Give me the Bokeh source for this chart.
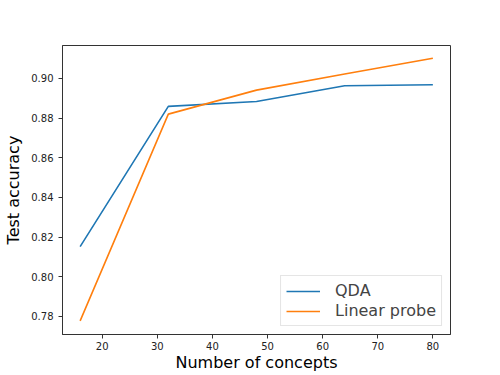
from bokeh.plotting import figure
from bokeh.models import FixedTicker, Range1d, Legend, LegendItem, CustomJSTickFormatter
from bokeh.embed import file_html
from bokeh.resources import INLINE

concepts = [16, 32, 48, 64, 80]
qda = [0.8152, 0.8859, 0.8884, 0.8963, 0.8968]
linear_probe = [0.7778, 0.8820, 0.8941, 0.9022, 0.9102]
x_ticks = [20, 30, 40, 50, 60, 70, 80]
y_ticks = [0.78, 0.80, 0.82, 0.84, 0.86, 0.88, 0.90]

p = figure(frame_width=388, frame_height=289, output_backend="svg", toolbar_location=None,
           x_range=Range1d(12.8, 83.2), y_range=Range1d(0.7709, 0.9166),
           min_border_left=62, min_border_right=34, min_border_top=45, min_border_bottom=25)
p.background_fill_color = "white"
p.border_fill_color = "white"
p.outline_line_color = "#333333"
p.outline_line_width = 1
p.xgrid.visible = False
p.ygrid.visible = False

font = "DejaVu Sans"
for ax in (p.xaxis[0], p.yaxis[0]):
    ax.axis_line_color = "#333333"
    ax.major_tick_line_color = "#333333"
    ax.major_tick_out = 4
    ax.major_tick_in = 0
    ax.minor_tick_line_color = None
    ax.major_label_text_font = font
    ax.major_label_text_font_size = "10px"
    ax.major_label_text_color = "#222222"
    ax.axis_label_text_font = font
    ax.axis_label_text_font_size = "16px"
    ax.axis_label_text_font_style = "normal"
    ax.axis_label_text_color = "black"

p.xaxis.ticker = FixedTicker(ticks=x_ticks)
p.yaxis.ticker = FixedTicker(ticks=y_ticks)
p.yaxis.formatter = CustomJSTickFormatter(code="return tick.toFixed(2);")
p.xaxis.axis_label = "Number of concepts"
p.yaxis.axis_label = "Test accuracy"
p.xaxis.major_label_standoff = 3
p.xaxis.axis_label_standoff = 0
p.yaxis.axis_label_standoff = 5

r1 = p.line(concepts, qda, line_color="#1f77b4", line_width=1.6)
r2 = p.line(concepts, linear_probe, line_color="#ff7f0e", line_width=1.6)

legend = Legend(items=[LegendItem(label="QDA", renderers=[r1]),
                       LegendItem(label="Linear probe", renderers=[r2])],
                location="bottom_right")
legend.label_text_font = font
legend.label_text_font_size = "16px"
legend.label_standoff = 15
legend.glyph_width = 34
legend.glyph_height = 18
legend.label_height = 18
legend.spacing = 1
legend.padding = 5
legend.margin = 8
legend.border_line_color = "#cccccc"
legend.border_line_width = 1
legend.background_fill_alpha = 0.8
p.add_layout(legend)

open("out.html", "w").write(file_html(p, INLINE))
